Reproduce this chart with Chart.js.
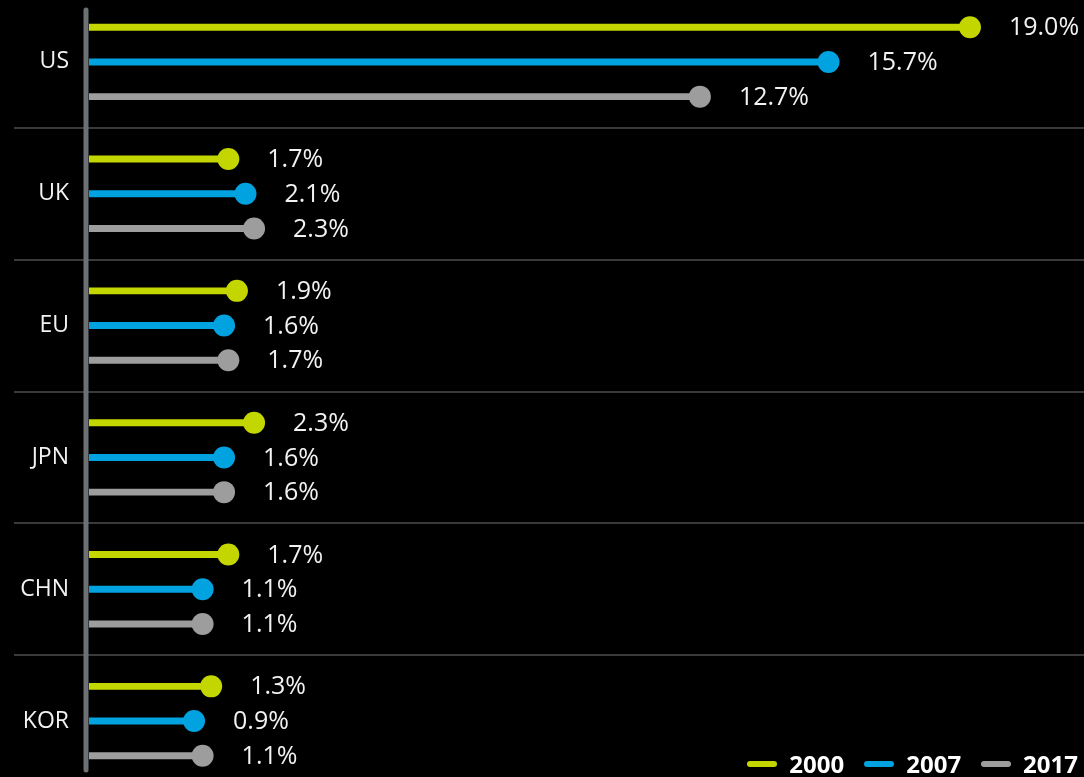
<!DOCTYPE html>
<html>
<head>
<meta charset="utf-8">
<script src="https://cdn.jsdelivr.net/npm/chart.js@4.4.1/dist/chart.umd.min.js"></script>
<style>
  html, body { margin:0; padding:0; background:#000; overflow:hidden; }
  body { width:1084px; height:777px; position:relative; font-family:"Open Sans", sans-serif; }
  #wrap { position:absolute; left:0; top:-4px; width:1084px; height:791px; }
  #legend { position:absolute; right:6px; top:751px; display:flex; align-items:center; color:#fff;
            font:bold 24px "Open Sans", sans-serif; }
  #legend span.sw { display:inline-block; width:30px; height:6px; border-radius:3px; margin:0 12px 0 0; }
  #legend span.tx { margin-right:20px; line-height:26px; }
  #legend span.tx:last-child { margin-right:0; }
</style>
</head>
<body>
<div id="wrap"><canvas id="chart"></canvas></div>
<div id="legend"></div>
<script>
// data
const categories = ['US', 'UK', 'EU', 'JPN', 'CHN', 'KOR'];
const seriesNames = ['2000', '2007', '2017'];
const values2000 = [19.0, 1.7, 1.9, 2.3, 1.7, 1.3];
const values2007 = [15.7, 2.1, 1.6, 1.6, 1.1, 0.9];
const values2017 = [12.7, 2.3, 1.7, 1.6, 1.1, 1.1];
const colors = ['#c4d600', '#00a3e0', '#9d9d9d'];

// axis range (the value axis does not start at zero in the original)
const X_MIN = -1.55;
const X_MAX = 21.66;

const lollipops = {
  id: 'lollipops',
  afterDatasetsDraw(chart) {
    const ctx = chart.ctx;
    const xs = chart.scales.x;
    // vertical axis line
    const ax = xs.getPixelForValue(X_MIN) - 3;
    ctx.save();
    ctx.strokeStyle = '#6d7174';
    ctx.lineWidth = 5;
    ctx.lineCap = 'round';
    ctx.beginPath();
    ctx.moveTo(ax, 14);
    ctx.lineTo(ax, 774);
    ctx.stroke();

    chart.data.datasets.forEach((ds, i) => {
      const meta = chart.getDatasetMeta(i);
      meta.data.forEach((el, j) => {
        ctx.fillStyle = ds.backgroundColor;
        ctx.beginPath();
        ctx.arc(el.x, el.y, 11, 0, Math.PI * 2);
        ctx.fill();
        ctx.fillStyle = '#f2f2f2';
        ctx.font = '25px "Open Sans", sans-serif';
        ctx.textAlign = 'left';
        ctx.textBaseline = 'middle';
        ctx.fillText(ds.data[j].toFixed(1) + '%', el.x + 39, el.y + 1);
      });
    });
    ctx.restore();
  }
};

const allValues = [values2000, values2007, values2017];

new Chart(document.getElementById('chart').getContext('2d'), {
  type: 'bar',
  data: {
    labels: categories,
    datasets: seriesNames.map((name, i) => ({
      label: name,
      data: allValues[i],
      backgroundColor: colors[i],
      base: X_MIN,
      borderWidth: 0,
      categoryPercentage: 0.79,
      barPercentage: 0.2
    }))
  },
  options: {
    indexAxis: 'y',
    responsive: true,
    maintainAspectRatio: false,
    animation: false,
    layout: { padding: 0 },
    scales: {
      x: {
        display: false,
        min: X_MIN,
        max: X_MAX
      },
      y: {
        type: 'category',
        offset: true,
        afterFit(scale) { scale.width = 89; },
        border: { display: false },
        grid: {
          offset: true,
          color: '#3a3a3a',
          lineWidth: 2,
          drawTicks: true,
          tickLength: 75
        },
        ticks: {
          color: '#f2f2f2',
          padding: -55,
          font: { family: 'Open Sans', size: 23 }
        }
      }
    },
    plugins: {
      legend: { display: false },
      tooltip: { enabled: false }
    }
  },
  plugins: [lollipops]
});

// legend
const legend = document.getElementById('legend');
seriesNames.forEach((name, i) => {
  const sw = document.createElement('span');
  sw.className = 'sw';
  sw.style.background = colors[i];
  const tx = document.createElement('span');
  tx.className = 'tx';
  tx.textContent = name;
  legend.appendChild(sw);
  legend.appendChild(tx);
});
</script>
</body>
</html>
